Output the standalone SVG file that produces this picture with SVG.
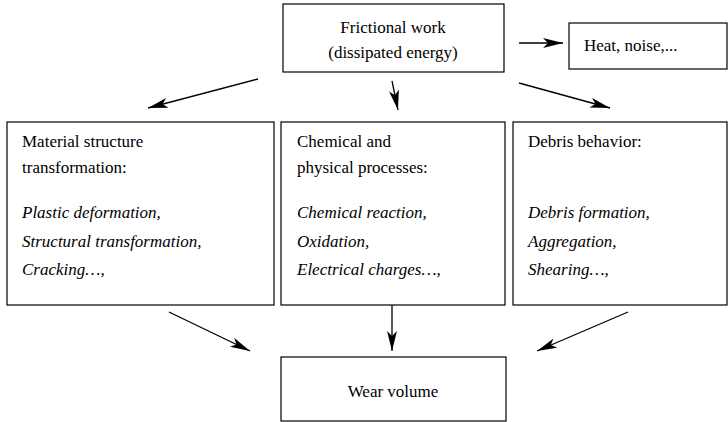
<svg xmlns="http://www.w3.org/2000/svg" id="dg" width="728" height="422" viewBox="0 0 728 422">
<defs>
<marker id="ah" viewBox="0 0 20 10" refX="20" refY="5" markerWidth="20" markerHeight="10" markerUnits="userSpaceOnUse" orient="auto">
<path d="M0,0 L20,5 L0,10 L5,5 Z" fill="#000"/>
</marker>
<style>
svg#dg g text.t{font-family:"Liberation Serif","Times New Roman",serif !important;font-size:17px;fill:#000}
svg#dg g text.t.i{font-style:italic !important}
.c{text-anchor:middle}
.box{fill:#fff;stroke:#000;stroke-width:1.2}
.ln{stroke:#000;stroke-width:1.3;fill:none;marker-end:url(#ah)}
</style>
</defs>
<rect width="728" height="422" fill="#fff"/>
<g id="frictional">
<rect class="box" x="283" y="4" width="221" height="68"/>
<text class="t c" font-family="Liberation Serif" style="font-family:'Liberation Serif',serif" x="393" y="33">Frictional work</text>
<text class="t c" font-family="Liberation Serif" style="font-family:'Liberation Serif',serif" x="393" y="58">(dissipated energy)</text>
</g>
<g id="heat">
<rect class="box" x="569" y="23" width="158" height="46"/>
<text class="t" font-family="Liberation Serif" style="font-family:'Liberation Serif',serif" x="584" y="51">Heat, noise,...</text>
</g>
<g id="material">
<rect class="box" x="7" y="122" width="267" height="183"/>
<text class="t" font-family="Liberation Serif" style="font-family:'Liberation Serif',serif" x="22" y="147">Material structure</text>
<text class="t" font-family="Liberation Serif" style="font-family:'Liberation Serif',serif" x="22" y="173">transformation:</text>
<text class="t i" font-family="Liberation Serif" style="font-family:'Liberation Serif',serif" x="22" y="218">Plastic deformation,</text>
<text class="t i" font-family="Liberation Serif" style="font-family:'Liberation Serif',serif" x="22" y="247">Structural transformation,</text>
<text class="t i" font-family="Liberation Serif" style="font-family:'Liberation Serif',serif" x="22" y="275">Cracking&#8230;,</text>
</g>
<g id="chemical">
<rect class="box" x="281" y="122" width="224" height="183"/>
<text class="t" font-family="Liberation Serif" style="font-family:'Liberation Serif',serif" x="297" y="147">Chemical and</text>
<text class="t" font-family="Liberation Serif" style="font-family:'Liberation Serif',serif" x="297" y="173">physical processes:</text>
<text class="t i" font-family="Liberation Serif" style="font-family:'Liberation Serif',serif" x="297" y="218">Chemical reaction,</text>
<text class="t i" font-family="Liberation Serif" style="font-family:'Liberation Serif',serif" x="297" y="247">Oxidation,</text>
<text class="t i" font-family="Liberation Serif" style="font-family:'Liberation Serif',serif" x="297" y="275">Electrical charges&#8230;,</text>
</g>
<g id="debris">
<rect class="box" x="513" y="122" width="214" height="183"/>
<text class="t" font-family="Liberation Serif" style="font-family:'Liberation Serif',serif" x="528" y="147">Debris behavior:</text>
<text class="t i" font-family="Liberation Serif" style="font-family:'Liberation Serif',serif" x="528" y="218">Debris formation,</text>
<text class="t i" font-family="Liberation Serif" style="font-family:'Liberation Serif',serif" x="528" y="247">Aggregation,</text>
<text class="t i" font-family="Liberation Serif" style="font-family:'Liberation Serif',serif" x="528" y="275">Shearing&#8230;,</text>
</g>
<g id="wear">
<rect class="box" x="281" y="357" width="225" height="64"/>
<text class="t c" font-family="Liberation Serif" style="font-family:'Liberation Serif',serif" x="393" y="397">Wear volume</text>
</g>
<g id="connectors">
<line class="ln" x1="519" y1="43" x2="563" y2="43"/>
<line class="ln" x1="258" y1="79" x2="148" y2="108"/>
<line class="ln" x1="392" y1="81" x2="398" y2="110"/>
<line class="ln" x1="519" y1="83" x2="610" y2="108"/>
<line class="ln" x1="169" y1="312" x2="250" y2="351"/>
<line class="ln" x1="392" y1="305" x2="392" y2="351"/>
<line class="ln" x1="628" y1="312" x2="537" y2="351"/>
</g>
</svg>
